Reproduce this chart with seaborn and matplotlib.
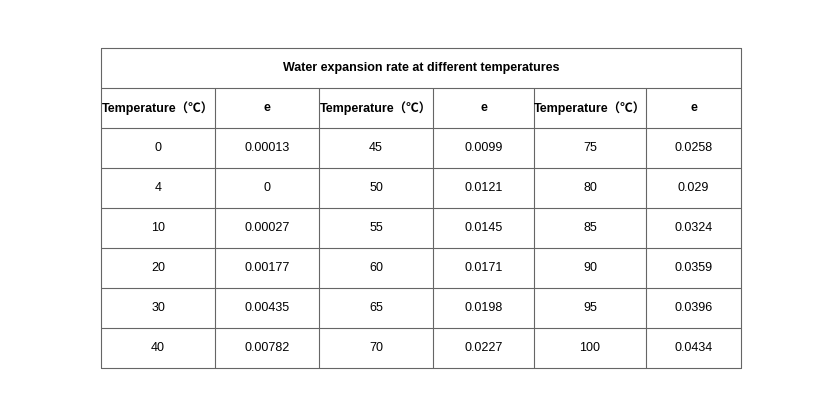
import matplotlib.pyplot as plt
import seaborn as sns

sns.set_theme(style="white")
plt.rcParams['font.family'] = ['Liberation Sans', 'Noto Sans CJK SC', 'DejaVu Sans']

title = "Water expansion rate at different temperatures"
header = ["Temperature（℃）", "e"] * 3
temp_1 = [0, 4, 10, 20, 30, 40]
e_1 = ["0.00013", "0", "0.00027", "0.00177", "0.00435", "0.00782"]
temp_2 = [45, 50, 55, 60, 65, 70]
e_2 = ["0.0099", "0.0121", "0.0145", "0.0171", "0.0198", "0.0227"]
temp_3 = [75, 80, 85, 90, 95, 100]
e_3 = ["0.0258", "0.029", "0.0324", "0.0359", "0.0396", "0.0434"]

col_edges = [101, 215, 319, 433, 534, 646, 741]
top, row_h = 48, 40
n_rows = 2 + len(temp_1)
line_col = "#666666"

fig = plt.figure(figsize=(8.4, 4.2), dpi=100)
ax = fig.add_axes([0, 0, 1, 1])
ax.set_xlim(0, 840)
ax.set_ylim(420, 0)
ax.axis("off")

# grid lines
for i in range(n_rows + 1):
    ax.plot([col_edges[0], col_edges[-1]], [top + i * row_h] * 2, color=line_col, lw=0.8)
ax.plot([col_edges[0]] * 2, [top, top + n_rows * row_h], color=line_col, lw=0.8)
ax.plot([col_edges[-1]] * 2, [top, top + n_rows * row_h], color=line_col, lw=0.8)
for x in col_edges[1:-1]:
    ax.plot([x, x], [top + row_h, top + n_rows * row_h], color=line_col, lw=0.8)

centers = [(col_edges[i] + col_edges[i + 1]) / 2 for i in range(6)]
ax.text((col_edges[0] + col_edges[-1]) / 2, top + row_h / 2, title,
        ha="center", va="center", fontsize=9, fontweight="bold", color="black")
for c, h in zip(centers, header):
    ax.text(c, top + 1.5 * row_h, h, ha="center", va="center",
            fontsize=9, fontweight="bold", color="black")

rows = list(zip(temp_1, e_1, temp_2, e_2, temp_3, e_3))
for r, vals in enumerate(rows):
    y = top + (2.5 + r) * row_h
    for c, v in zip(centers, vals):
        ax.text(c, y, str(v), ha="center", va="center", fontsize=9, color="black")

fig.savefig("out.png", dpi=100, facecolor="white")
